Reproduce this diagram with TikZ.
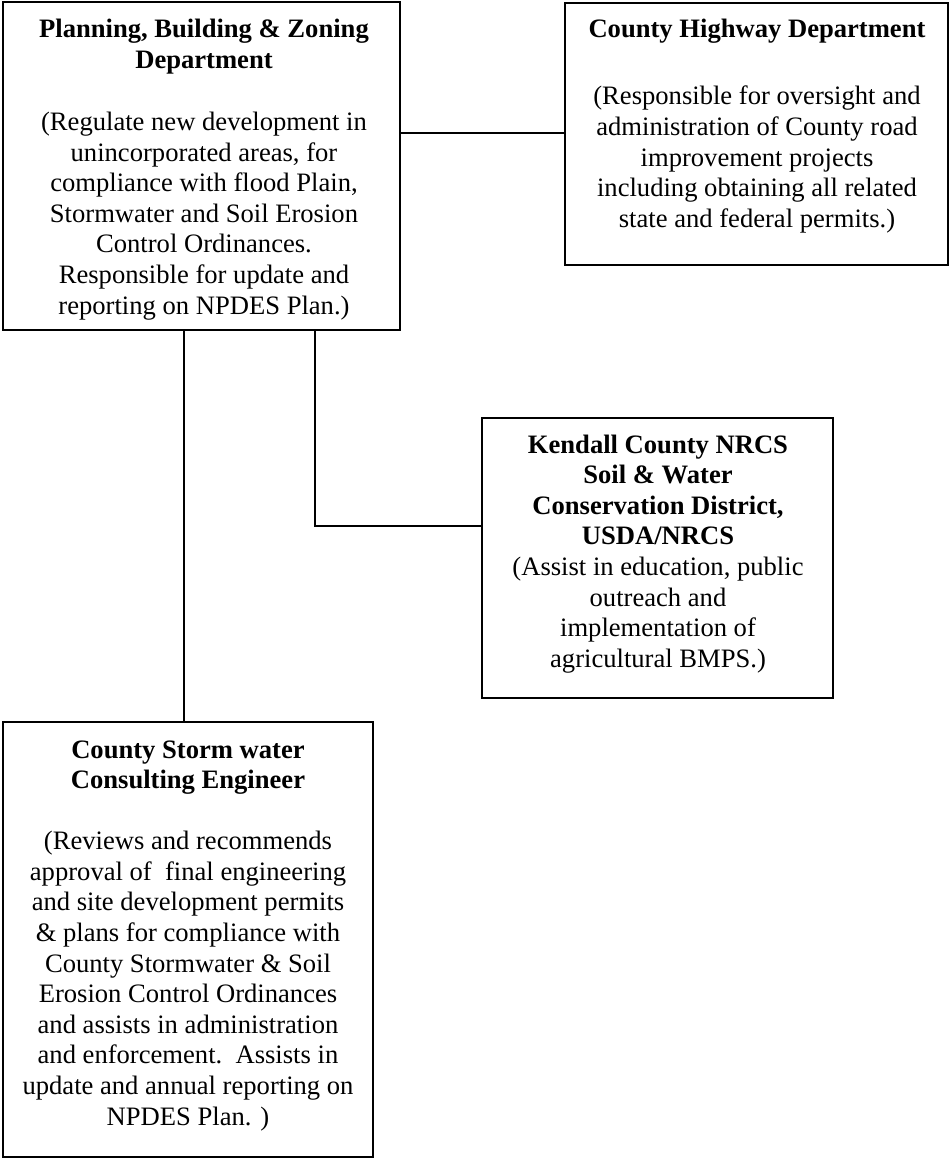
\documentclass[tikz,border=0pt]{standalone}
\usepackage{fontspec}
\setmainfont{Liberation Serif}
\begin{document}
\begin{tikzpicture}[x=1pt,y=-1pt,
  box/.style={draw=black, line width=2.5pt, inner sep=0pt, rectangle, fill=none},
  conn/.style={draw=black, line width=2.2pt},
  txt/.style={inner sep=0pt, anchor=base}]
\useasboundingbox (0,0) rectangle (950,1158);
\fill[white] (0,0) rectangle (950,1158);
% boxes
\node[box, minimum width=397pt, minimum height=328pt] (b1) at (201.5,166) {};
\node[box, minimum width=383pt, minimum height=262pt] (b2) at (756.5,134) {};
\node[box, minimum width=351pt, minimum height=280pt] (b3) at (657.5,558) {};
\node[box, minimum width=370pt, minimum height=435pt] (b4) at (188,939.5) {};
% texts
\node[txt] (t1) at (204,38) {\parbox[t]{400pt}{\centering\fontsize{26.6}{30.6}\selectfont
  \textbf{Planning, Building \& Zoning}\\ \textbf{Department}\\[31.4pt]
  (Regulate new development in\\ unincorporated areas, for\\ compliance with flood Plain,\\
  Stormwater and Soil Erosion\\ Control Ordinances.\\ Responsible for update and\\
  reporting on NPDES Plan.)}};
\node[txt] (t2) at (757,38) {\parbox[t]{400pt}{\centering\fontsize{26.6}{30.6}\selectfont
  \textbf{County Highway Department}\\[36.4pt]
  (Responsible for oversight and\\ administration of County road\\ improvement projects\\
  including obtaining all related\\ state and federal permits.)}};
\node[txt] (t3) at (658,453) {\parbox[t]{400pt}{\centering\fontsize{26.6}{30.6}\selectfont
  \textbf{Kendall County NRCS}\\ \textbf{Soil \& Water}\\ \textbf{Conservation District,}\\
  \textbf{USDA/NRCS}\\ (Assist in education, public\\ outreach and\\ implementation of\\
  agricultural BMPS.)}};
\node[txt] (t4) at (188,758) {\parbox[t]{400pt}{\centering\fontsize{26.6}{30.6}\selectfont
  \textbf{County Storm water}\\ \textbf{Consulting Engineer}\\[30.4pt]
  (Reviews and recommends\\ approval of\ \ final engineering\\ and site development permits\\
  \& plans for compliance with\\ County Stormwater \& Soil\\ Erosion Control Ordinances\\
  and assists in administration\\ and enforcement.\ \ Assists in\\ update and annual reporting on\\
  NPDES Plan. )}};
% connectors
\draw[conn] ([yshift=33pt]b1.east) -- ([yshift=33pt]b1.east -| b2.west);
\draw[conn] ([xshift=-17.5pt]b1.south) -- ([xshift=-17.5pt]b1.south |- b4.north);
\draw[conn] ([xshift=113.5pt]b1.south) |- ([yshift=32pt]b3.west);
\end{tikzpicture}
\end{document}
